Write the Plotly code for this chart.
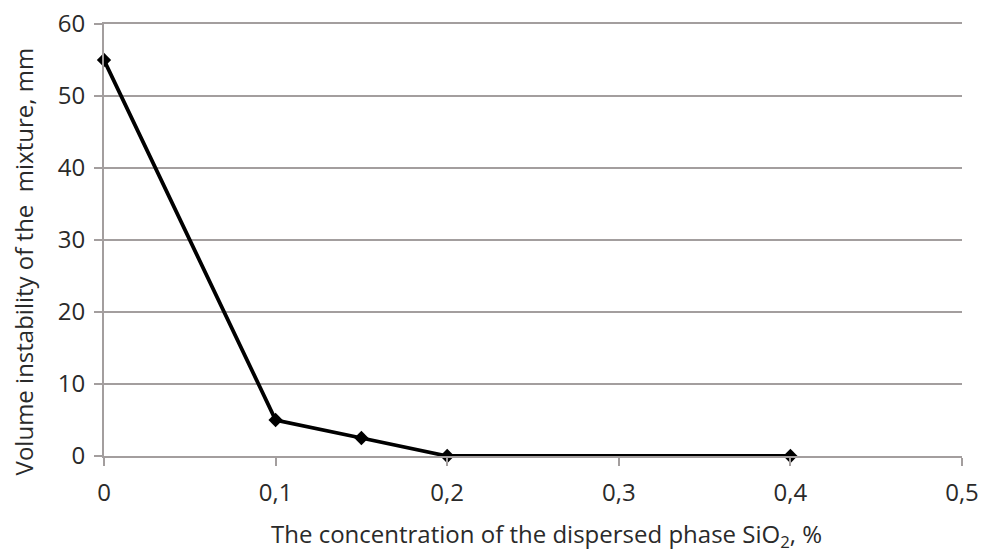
import plotly.graph_objects as go

concentration = [0, 0.1, 0.15, 0.2, 0.4]
instability = [55, 5, 2.5, 0, 0]
x_ticks = [0, 0.1, 0.2, 0.3, 0.4, 0.5]
x_tick_labels = ["0", "0,1", "0,2", "0,3", "0,4", "0,5"]
y_ticks = [0, 10, 20, 30, 40, 50, 60]

grid = "#a39e9e"
txt = "#2a2a2a"
fnt = dict(family="Open Sans", size=24, color=txt)
fig = go.Figure()
fig.add_trace(go.Scatter(
    x=concentration, y=instability, mode="lines+markers",
    line=dict(color="#000000", width=3.8),
    marker=dict(symbol="diamond", size=11, color="#000000"),
    showlegend=False, cliponaxis=False,
))
fig.update_layout(
    width=982, height=553,
    margin=dict(l=104, r=20, t=24, b=97),
    paper_bgcolor="white", plot_bgcolor="white",
    font=fnt,
    xaxis=dict(
        range=[0, 0.5], tickvals=x_ticks, ticktext=x_tick_labels,
        showgrid=False, zeroline=False, showline=True, mirror=True,
        linecolor=grid, linewidth=2,
        ticks="outside", ticklen=8, tickwidth=2, tickcolor=grid,
        tickfont=fnt, ticklabelstandoff=6, automargin=False,
        ticklabeloverflow="allow",
    ),
    yaxis=dict(
        range=[0, 60], tickvals=y_ticks,
        showgrid=True, gridcolor=grid, gridwidth=2, zeroline=False,
        showline=True, linecolor=grid, linewidth=2,
        ticks="outside", ticklen=8, tickwidth=2, tickcolor=grid,
        tickfont=fnt, ticklabelstandoff=4, automargin=False,
        ticklabeloverflow="allow",
    ),
    annotations=[
        dict(text="The concentration of the dispersed phase SiO<sub>2</sub>, %",
             xref="paper", yref="paper", x=0.5163, y=-0.183,
             xanchor="center", yanchor="middle", showarrow=False, font=fnt),
        dict(text="Volume instability of the  mixture, mm",
             xref="paper", yref="paper", x=-0.094, y=0.449, textangle=-90,
             xanchor="center", yanchor="middle", showarrow=False, font=fnt),
    ],
)
fig.write_html("out.html", config={"displayModeBar": False},
               post_script="document.body.style.margin='0';")
